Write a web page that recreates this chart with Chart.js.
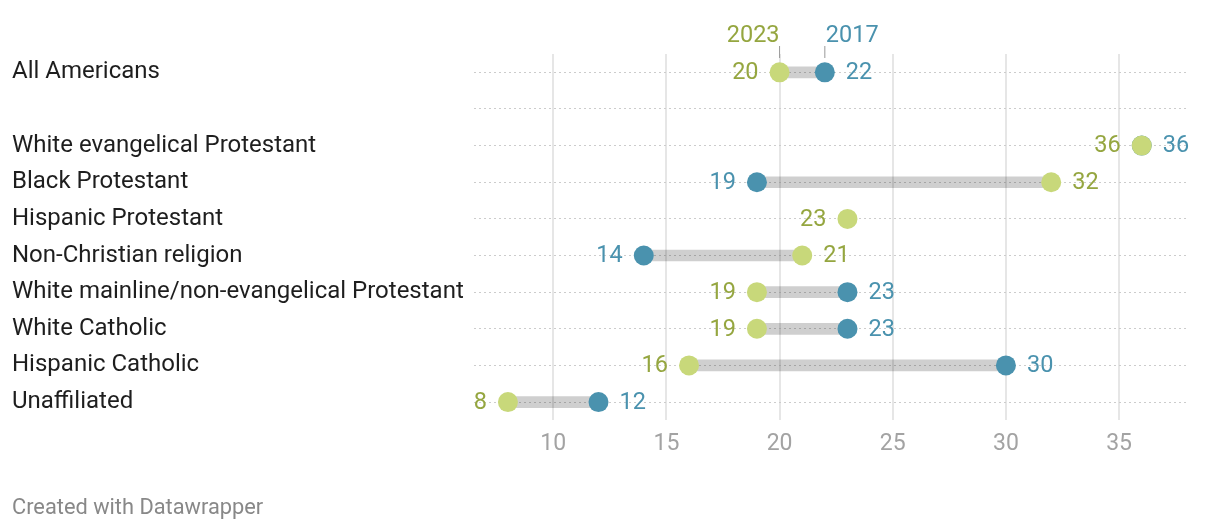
<!DOCTYPE html>
<html>
<head>
<meta charset="utf-8">
<script src="https://cdn.jsdelivr.net/npm/chart.js@4/dist/chart.umd.min.js"></script>
<style>
  html, body { margin: 0; padding: 0; background: #fff; }
  #wrap { position: relative; width: 1220px; height: 530px; }
  #footer {
    position: absolute; left: 12px; top: 494px;
    font-family: Roboto, sans-serif; font-size: 21.8px; color: #888;
  }
</style>
</head>
<body>
<div id="wrap">
  <canvas id="chart"></canvas>
  <div id="footer">Created with Datawrapper</div>
</div>
<script>
// Grupos (la fila vacía separa "All Americans" del resto)
const grupos = [
  'All Americans',
  '',
  'White evangelical Protestant',
  'Black Protestant',
  'Hispanic Protestant',
  'Non-Christian religion',
  'White mainline/non-evangelical Protestant',
  'White Catholic',
  'Hispanic Catholic',
  'Unaffiliated'
];
const valores2023 = [20, null, 36, 32, 23, 21, 19, 19, 16, 8];
const valores2017 = [22, null, 36, 19, null, 14, 23, 23, 30, 12];
const ticksX = [10, 15, 20, 25, 30, 35];

const verdePunto = '#c8d87a';
const verdeTexto = '#95a640';
const azul = '#4a92ae';
const fuente = 'Roboto, sans-serif';

// Barras flotantes entre los dos años
const rangos = grupos.map((g, i) => {
  const a = valores2023[i], b = valores2017[i];
  if (a == null || b == null) return null;
  return [Math.min(a, b), Math.max(a, b)];
});

/**
 * Dibuja las etiquetas de valor junto a cada punto y la cabecera 2023 / 2017.
 */
const etiquetasPlugin = {
  id: 'etiquetas',
  afterDatasetsDraw(chart) {
    const ctx = chart.ctx;
    const m23 = chart.getDatasetMeta(0).data;
    const m17 = chart.getDatasetMeta(1).data;
    ctx.save();
    ctx.font = '23.5px ' + fuente;
    ctx.textBaseline = 'middle';
    const off = 21;

    grupos.forEach((g, i) => {
      const a = valores2023[i], b = valores2017[i];
      const pa = m23[i], pb = m17[i];
      if (a != null && b != null) {
        // el menor a la izquierda, el mayor a la derecha
        const aIzq = a <= b;
        ctx.fillStyle = verdeTexto;
        ctx.textAlign = aIzq ? 'right' : 'left';
        ctx.fillText(String(a), pa.x + (aIzq ? -off : off), pa.y + 1);
        ctx.fillStyle = azul;
        ctx.textAlign = aIzq ? 'left' : 'right';
        ctx.fillText(String(b), pb.x + (aIzq ? off : -off), pb.y + 1);
      } else if (a != null) {
        ctx.fillStyle = verdeTexto;
        ctx.textAlign = 'right';
        ctx.fillText(String(a), pa.x - off, pa.y + 1);
      } else if (b != null) {
        ctx.fillStyle = azul;
        ctx.textAlign = 'right';
        ctx.fillText(String(b), pb.x - off, pb.y + 1);
      }
    });

    // Cabecera con los años sobre la primera fila
    const top = chart.chartArea.top;
    const x23 = m23[0].x, x17 = m17[0].x;
    ctx.strokeStyle = '#999';
    ctx.lineWidth = 1;
    ctx.beginPath();
    ctx.moveTo(x23, top - 8); ctx.lineTo(x23, top + 4);
    ctx.moveTo(x17, top - 8); ctx.lineTo(x17, top + 4);
    ctx.stroke();
    ctx.textBaseline = 'alphabetic';
    ctx.fillStyle = verdeTexto;
    ctx.textAlign = 'right';
    ctx.fillText('2023', x23, top - 12);
    ctx.fillStyle = azul;
    ctx.textAlign = 'left';
    ctx.fillText('2017', x17 + 1, top - 12);
    ctx.restore();
  }
};

new Chart(document.getElementById('chart'), {
  type: 'bar',
  data: {
    labels: grupos,
    datasets: [
      {
        type: 'line',
        label: '2023',
        data: valores2023,
        indexAxis: 'y',
        showLine: false,
        pointRadius: 10,
        pointBackgroundColor: verdePunto,
        pointBorderWidth: 0,
        order: 0
      },
      {
        type: 'line',
        label: '2017',
        data: valores2017,
        indexAxis: 'y',
        showLine: false,
        pointRadius: 10,
        pointBackgroundColor: azul,
        pointBorderWidth: 0,
        order: 1
      },
      {
        type: 'bar',
        label: 'rango',
        data: rangos,
        backgroundColor: 'rgba(0,0,0,0.19)',
        barThickness: 11,
        borderSkipped: false,
        order: 2
      }
    ]
  },
  options: {
    indexAxis: 'y',
    responsive: true,
    maintainAspectRatio: false,
    animation: false,
    layout: { padding: { left: 12, right: 33, top: 54, bottom: 62 } },
    plugins: {
      legend: { display: false },
      tooltip: { enabled: false }
    },
    scales: {
      x: {
        type: 'linear',
        min: 6.5,
        max: 38,
        afterBuildTicks: scale => {
          scale.ticks = ticksX.map(v => ({ value: v }));
        },
        border: { display: false },
        grid: { color: '#e6e6e6', lineWidth: 2, drawTicks: false },
        ticks: {
          color: '#a3a3a3',
          padding: 10,
          font: { family: fuente, size: 23 }
        }
      },
      y: {
        type: 'category',
        offset: true,
        border: { display: false, dash: [2, 3] },
        grid: {
          offset: false,
          color: '#cccccc',
          lineWidth: 1,
          drawTicks: false
        },
        afterFit: scale => { scale.width = 462; },
        ticks: {
          crossAlign: 'far',
          padding: 0,
          color: '#1e1e1e',
          font: { family: fuente, size: 24 }
        }
      }
    }
  },
  plugins: [etiquetasPlugin]
});
</script>
</body>
</html>
